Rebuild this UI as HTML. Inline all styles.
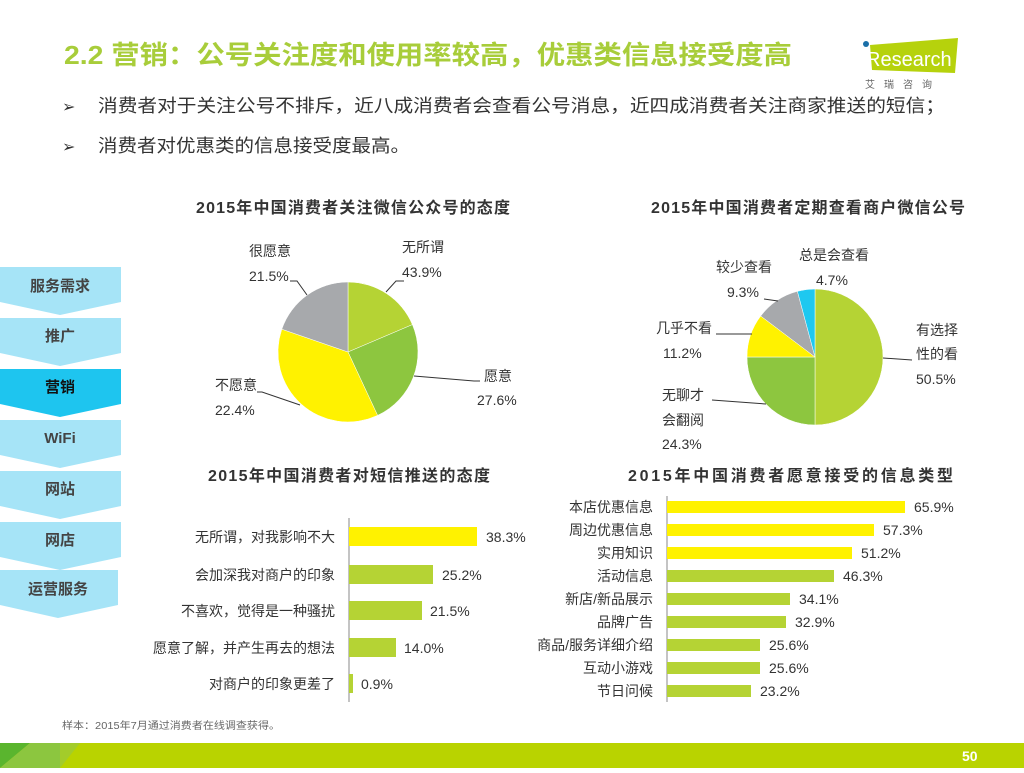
<!DOCTYPE html>
<html><head><meta charset="utf-8"><style>
body{margin:0;width:1024px;height:768px;overflow:hidden;background:#fff;font-family:"Liberation Sans","Noto Sans CJK SC",sans-serif}
svg text{font-family:"Liberation Sans","Noto Sans CJK SC",sans-serif}
</style></head><body>
<svg width="1024" height="768" viewBox="0 0 1024 768" xmlns="http://www.w3.org/2000/svg">
<text x="64" y="64" font-size="26" font-weight="bold" fill="#a8cd3a" textLength="728" lengthAdjust="spacingAndGlyphs">2.2 营销：公号关注度和使用率较高，优惠类信息接受度高</text>
<polygon points="870,45 958,38 955,73 872,70" fill="#b6d20c"/>
<circle cx="866" cy="44" r="3" fill="#1a6fa8"/>
<text x="866" y="66" font-size="20" fill="#fff">Research</text>
<text x="865" y="88" font-size="10" fill="#666" letter-spacing="9">艾瑞咨询</text>
<text x="62" y="112" font-size="16" fill="#333">➢</text>
<text x="98" y="112" font-size="18" fill="#333" textLength="847" lengthAdjust="spacingAndGlyphs">消费者对于关注公号不排斥，近八成消费者会查看公号消息，近四成消费者关注商家推送的短信；</text>
<text x="62" y="152" font-size="16" fill="#333">➢</text>
<text x="98" y="152" font-size="18" fill="#333" textLength="312" lengthAdjust="spacingAndGlyphs">消费者对优惠类的信息接受度最高。</text>
<g font-size="15" font-weight="bold" text-anchor="middle" fill="#444">
<polygon points="0,267 121,267 121,302 60,315 0,302" fill="#a6e4f7"/><text x="60" y="291">服务需求</text>
<polygon points="0,318 121,318 121,353 60,366 0,353" fill="#a6e4f7"/><text x="60" y="341">推广</text>
<polygon points="0,369 121,369 121,404 60,417 0,404" fill="#1ec5ef"/><text x="60" y="392" fill="#111">营销</text>
<polygon points="0,420 121,420 121,455 60,468 0,455" fill="#a6e4f7"/><text x="60" y="443">WiFi</text>
<polygon points="0,471 121,471 121,506 60,519 0,506" fill="#a6e4f7"/><text x="60" y="494">网站</text>
<polygon points="0,522 121,522 121,557 60,570 0,557" fill="#a6e4f7"/><text x="60" y="545">网店</text>
<polygon points="0,570 118,570 118,605 58,618 0,605" fill="#a6e4f7"/><text x="58" y="594">运营服务</text>
</g>
<g font-size="16" font-weight="bold" fill="#333" lengthAdjust="spacingAndGlyphs">
<text x="196" y="213" textLength="314">2015年中国消费者关注微信公众号的态度</text>
<text x="651" y="213" textLength="314">2015年中国消费者定期查看商户微信公号</text>
<text x="208" y="481" textLength="282">2015年中国消费者对短信推送的态度</text>
<text x="628" y="481" textLength="325">2015年中国消费者愿意接受的信息类型</text>
</g>
<g stroke="#fff" stroke-width="0.5">
<path d="M348,352 L348,282 A70,70 0 0,1 412.4,324.6 Z" fill="#b5d334"/>
<path d="M348,352 L412.4,324.6 A70,70 0 0,1 377.6,415.4 Z" fill="#8dc63f"/>
<path d="M348,352 L377.6,415.4 A70,70 0 0,1 281.8,329.2 Z" fill="#fff200"/>
<path d="M348,352 L281.8,329.2 A70,70 0 0,1 348,282 Z" fill="#a7a9ac"/>
</g>
<g fill="none" stroke="#333" stroke-width="1">
<polyline points="386,292 396,281 404,281"/>
<polyline points="414,376 474,381 480,381"/>
<polyline points="300,405 262,392 257,392"/>
<polyline points="307,295 297,281 290,281"/>
</g>
<g font-size="14" fill="#333">
<text x="402" y="252">无所谓</text><text x="402" y="277">43.9%</text>
<text x="484" y="381">愿意</text><text x="477" y="405">27.6%</text>
<text x="215" y="390">不愿意</text><text x="215" y="415">22.4%</text>
<text x="249" y="256">很愿意</text><text x="249" y="281">21.5%</text>
</g>
<g stroke="#fff" stroke-width="0.5">
<path d="M815,357 L815,289 A68,68 0 0,1 815,425 Z" fill="#b5d334"/>
<path d="M815,357 L815,425 A68,68 0 0,1 747,357 Z" fill="#8dc63f"/>
<path d="M815,357 L747,357 A68,68 0 0,1 760.7,316 Z" fill="#fff200"/>
<path d="M815,357 L760.7,316 A68,68 0 0,1 797.4,291.3 Z" fill="#a7a9ac"/>
<path d="M815,357 L797.4,291.3 A68,68 0 0,1 815,289 Z" fill="#1ec8f0"/>
</g>
<g fill="none" stroke="#333" stroke-width="1">
<polyline points="883,358 912,360"/>
<polyline points="766,404 712,400"/>
<polyline points="752,334 716,334"/>
<polyline points="778,301 764,299"/>
</g>
<g font-size="14" fill="#333">
<text x="799" y="260">总是会查看</text><text x="816" y="285">4.7%</text>
<text x="716" y="272">较少查看</text><text x="727" y="297">9.3%</text>
<text x="656" y="333">几乎不看</text><text x="663" y="358">11.2%</text>
<text x="916" y="335">有选择</text><text x="916" y="359">性的看</text><text x="916" y="384">50.5%</text>
<text x="662" y="400">无聊才</text><text x="662" y="425">会翻阅</text><text x="662" y="449">24.3%</text>
</g>
<line x1="349" y1="518" x2="349" y2="702" stroke="#888"/>
<g fill="#b5d334">
<rect x="349" y="527" width="128" height="19" fill="#fff200"/>
<rect x="349" y="565" width="84" height="19"/>
<rect x="349" y="601" width="73" height="19"/>
<rect x="349" y="638" width="47" height="19"/>
<rect x="349" y="674" width="4" height="19"/>
</g>
<g font-size="14" fill="#333" text-anchor="end">
<text x="335" y="542">无所谓，对我影响不大</text>
<text x="335" y="580">会加深我对商户的印象</text>
<text x="335" y="616">不喜欢，觉得是一种骚扰</text>
<text x="335" y="653">愿意了解，并产生再去的想法</text>
<text x="335" y="689">对商户的印象更差了</text>
</g>
<g font-size="14" fill="#333">
<text x="486" y="542">38.3%</text><text x="442" y="580">25.2%</text><text x="430" y="616">21.5%</text><text x="404" y="653">14.0%</text><text x="361" y="689">0.9%</text>
</g>
<line x1="667" y1="496" x2="667" y2="702" stroke="#888"/>
<g fill="#b5d334">
<rect x="667" y="501" width="238" height="12" fill="#fff200"/>
<rect x="667" y="524" width="207" height="12" fill="#fff200"/>
<rect x="667" y="547" width="185" height="12" fill="#fff200"/>
<rect x="667" y="570" width="167" height="12"/>
<rect x="667" y="593" width="123" height="12"/>
<rect x="667" y="616" width="119" height="12"/>
<rect x="667" y="639" width="93" height="12"/>
<rect x="667" y="662" width="93" height="12"/>
<rect x="667" y="685" width="84" height="12"/>
</g>
<g font-size="14" fill="#333" text-anchor="end">
<text x="653" y="512">本店优惠信息</text>
<text x="653" y="535">周边优惠信息</text>
<text x="653" y="558">实用知识</text>
<text x="653" y="581">活动信息</text>
<text x="653" y="604">新店/新品展示</text>
<text x="653" y="627">品牌广告</text>
<text x="653" y="650">商品/服务详细介绍</text>
<text x="653" y="673">互动小游戏</text>
<text x="653" y="696">节日问候</text>
</g>
<g font-size="14" fill="#333">
<text x="914" y="512">65.9%</text><text x="883" y="535">57.3%</text><text x="861" y="558">51.2%</text><text x="843" y="581">46.3%</text><text x="799" y="604">34.1%</text><text x="795" y="627">32.9%</text><text x="769" y="650">25.6%</text><text x="769" y="673">25.6%</text><text x="760" y="696">23.2%</text>
</g>
<text x="62" y="729" font-size="10" fill="#666" textLength="218" lengthAdjust="spacingAndGlyphs">样本：2015年7月通过消费者在线调查获得。</text>
<rect x="0" y="743" width="1024" height="25" fill="#b9d300"/>
<polygon points="0,743 30,743 0,768" fill="#5ab52e"/>
<polygon points="0,768 30,743 60,743 60,768" fill="#8cc63f"/>
<polygon points="60,743 80,743 60,768" fill="#a3cc2a"/>
<text x="962" y="761" font-size="14" font-weight="bold" fill="#fff">50</text>
</svg>
</body></html>
